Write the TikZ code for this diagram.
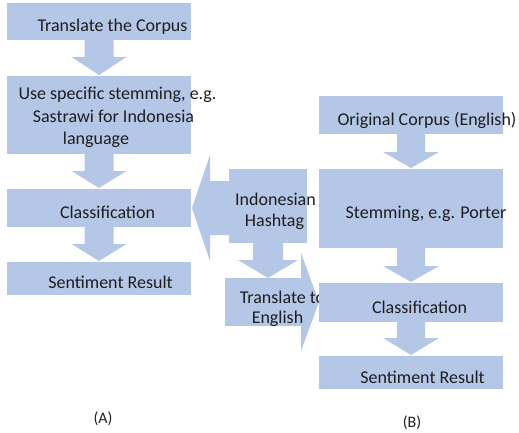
\documentclass[tikz,border=0pt]{standalone}
\usepackage{fontspec}
\setmainfont{Carlito}
\usetikzlibrary{calc}
\definecolor{boxblue}{HTML}{B4C7E7}
\definecolor{txt}{HTML}{1E1E1E}
\newcommand\blockdown[6]{%
  \fill[boxblue] let \p1=(#1.south), \p2=(#2.north) in
    (\x1-#3pt,\y1) -- (\x1+#3pt,\y1) -- (\x1+#3pt,\y2+#6pt+#5pt) -- (\x1+#4pt,\y2+#6pt+#5pt)
    -- (\x1,\y2+#6pt) -- (\x1-#4pt,\y2+#6pt+#5pt) -- (\x1-#3pt,\y2+#6pt+#5pt) -- cycle;}
\begin{document}
\begin{tikzpicture}[x=1pt,y=-1pt,
  box/.style={fill=boxblue,draw=none,inner sep=0pt,outer sep=0pt},
  lbl/.style={anchor=base,inner sep=0pt,text=txt,font=\fontsize{18}{21}\selectfont},
  captext/.style={anchor=base,inner sep=0pt,text=txt,font=\fontsize{16}{19}\selectfont}]
\useasboundingbox (0,0) rectangle (519,433);
% ---- column A ----
\node[box,minimum width=184pt,minimum height=37pt] (a1) at (99,21.5) {};
\node[box,minimum width=184pt,minimum height=78pt] (a2) at (99,115) {};
\node[box,minimum width=184pt,minimum height=38pt] (a3) at (99,208) {};
\node[box,minimum width=184pt,minimum height=33pt] (a4) at (99,278.5) {};
\blockdown{a1}{a2}{14.5}{27.5}{18}{1}
\blockdown{a2}{a3}{14.5}{27.5}{17}{1}
\blockdown{a3}{a4}{14.5}{27.5}{17}{1}
% ---- middle ----
\node[box,minimum width=78pt,minimum height=74pt] (h) at (268,206) {};
\fill[boxblue] let \p1=(h.west), \p2=(a3.east) in
  (\x1,\y2+27pt) -- (\x2+19pt,\y2+27pt) -- (\x2+19pt,\y2+53pt) -- (\x2+1pt,\y2)
  -- (\x2+19pt,\y2-53pt) -- (\x2+19pt,\y2-27pt) -- (\x1,\y2-27pt) -- cycle;
\node[box,minimum width=76pt,minimum height=48pt] (t) at (263,302) {};
\blockdown{h}{t}{15}{30}{18}{0}
% ---- column B ----
\node[box,minimum width=184pt,minimum height=38pt] (b1) at (411,115) {};
\node[box,minimum width=184pt,minimum height=79pt] (b2) at (411,208.5) {};
\fill[boxblue] let \p1=(t.east), \p2=(b2.west) in
  (\x1,\y1+49pt) -- (\x2,\y1) -- (\x1,\y1-49pt) -- cycle;
% text of middle boxes
\node[lbl] (th1) at (275.5,205) {Indonesian};
\node[lbl] (th2) at (274.5,226) {Hashtag};
\node[lbl] (tt1) at (282.5,303) {Translate to};
\node[lbl] (tt2) at (277.5,323) {English};
\node[box,minimum width=184pt,minimum height=39pt] (b3) at (411,302.5) {};
\node[box,minimum width=184pt,minimum height=33pt] (b4) at (411,372.5) {};
\blockdown{b1}{b2}{14}{28}{16}{1}
\blockdown{b2}{b3}{14}{28}{16}{1}
\blockdown{b3}{b4}{14}{28}{17}{1}
% ---- texts ----
\node[lbl] (ta1) at (112.5,32) {Translate the Corpus};
\node[lbl] (ta2a) at (117.5,100) {Use specific stemming, e.g.};
\node[lbl] (ta2b) at (113.5,122) {Sastrawi for Indonesia};
\node[lbl] (ta2c) at (96,144) {language};
\node[lbl] (ta3) at (107.5,218) {Classification};
\node[lbl] (ta4) at (110.5,288) {Sentiment Result};
\node[lbl] (tb1) at (427,125) {Original Corpus (English)};
\node[lbl] (tb2) at (426,218) {Stemming, e.g. Porter};
\node[lbl] (tb3) at (419.5,313) {Classification};
\node[lbl] (tb4) at (422.5,383) {Sentiment Result};
\node[captext] (ca) at (103,423) {(A)};
\node[captext] (cb) at (412,427) {(B)};
\end{tikzpicture}
\end{document}
